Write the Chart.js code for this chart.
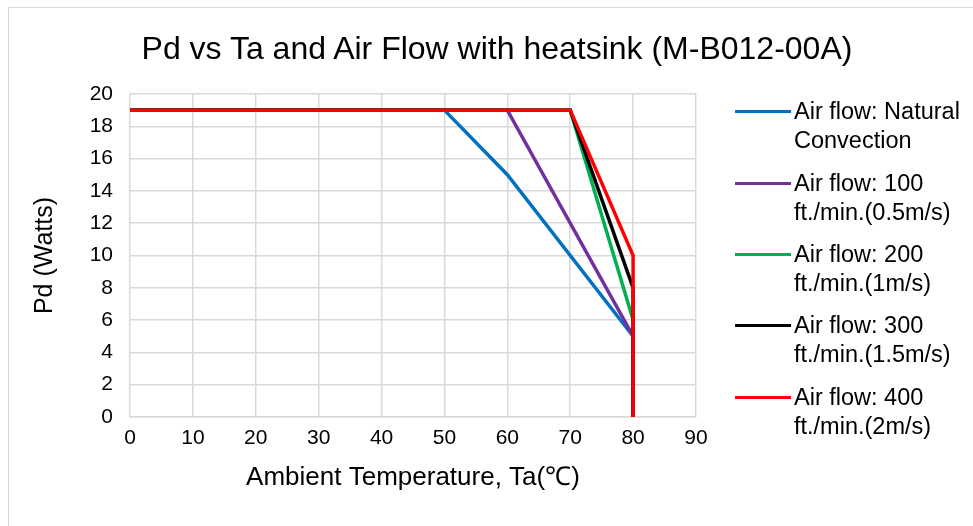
<!DOCTYPE html>
<html>
<head>
<title>Pd vs Ta</title>
<script src="https://cdn.jsdelivr.net/npm/chart.js"></script>
<style>
body{margin:0;background:#fff;font-family:"Liberation Sans",Arial,sans-serif;}
#wrap{position:relative;width:973px;height:526px;overflow:hidden;}
#frame{position:absolute;left:8px;top:7px;width:980px;height:530px;border:1px solid #d9d9d9;}
#chart{position:absolute;left:0;top:0;}
#title{position:absolute;left:0;width:994px;top:30px;text-align:center;font-size:32px;line-height:37px;color:#000;white-space:nowrap;}
.lg{position:absolute;left:735px;font-size:23.5px;line-height:28.5px;color:#000;}
.lg span{position:absolute;left:0;top:13px;width:56px;height:3px;}
.lg div{margin-left:59px;white-space:nowrap;}
</style>
</head>
<body>
<div id="wrap">
  <div id="frame"></div>
  <canvas id="chart" width="973" height="526"></canvas>
  <div id="title">Pd vs Ta and Air Flow with heatsink (M-B012-00A)</div>
  <div id="legend"></div>
</div>
<script>
const seriesNames = [
  ['Air flow: Natural', 'Convection'],
  ['Air flow: 100', 'ft./min.(0.5m/s)'],
  ['Air flow: 200', 'ft./min.(1m/s)'],
  ['Air flow: 300', 'ft./min.(1.5m/s)'],
  ['Air flow: 400', 'ft./min.(2m/s)']
];
const colors = ['#0070C0', '#7030A0', '#00B050', '#000000', '#FF0000'];

const taNatural = [0, 50, 60, 80, 80];
const pdNatural = [19, 19, 15, 5, 0];
const ta100 = [0, 60, 80, 80];
const pd100 = [19, 19, 5, 0];
const ta200 = [0, 70, 80, 80];
const pd200 = [19, 19, 6, 0];
const ta300 = [0, 70, 80, 80];
const pd300 = [19, 19, 8, 0];
const ta400 = [0, 70, 80, 80];
const pd400 = [19, 19, 10, 0];

const xTicks = [0, 10, 20, 30, 40, 50, 60, 70, 80, 90];
const yTicks = [0, 2, 4, 6, 8, 10, 12, 14, 16, 18, 20];

const allTa = [taNatural, ta100, ta200, ta300, ta400];
const allPd = [pdNatural, pd100, pd200, pd300, pd400];

const datasets = allTa.map((ta, i) => ({
  label: seriesNames[i].join(' '),
  data: ta.map((x, j) => ({x: x, y: allPd[i][j]})),
  borderColor: colors[i],
  backgroundColor: colors[i],
  borderWidth: 3.5,
  pointRadius: 0,
  tension: 0,
  fill: false,
  order: 4 - i,
  clip: false
}));

const font = {family: '"Liberation Sans", Arial, sans-serif'};

new Chart(document.getElementById('chart'), {
  type: 'line',
  data: {datasets: datasets},
  options: {
    responsive: false,
    animation: false,
    devicePixelRatio: 1,
    layout: {padding: {left: 30, right: 277, top: 94, bottom: 30}},
    plugins: {
      legend: {display: false},
      tooltip: {enabled: false},
      title: {display: false}
    },
    scales: {
      x: {
        type: 'linear',
        min: 0, max: 90,
        afterBuildTicks: s => { s.ticks = xTicks.map(v => ({value: v})); },
        afterFit: s => { s.height = 79; },
        ticks: {color: '#000', font: {...font, size: 21}, padding: 9, maxRotation: 0},
        grid: {color: '#d9d9d9', lineWidth: 1.5, drawTicks: false},
        border: {color: '#d9d9d9', width: 1.5},
        title: {display: true, text: 'Ambient Temperature, Ta(℃)', color: '#000', font: {...font, size: 26}, padding: {top: 4, bottom: 3}}
      },
      y: {
        min: 0, max: 20,
        afterBuildTicks: s => { s.ticks = yTicks.map(v => ({value: v})); },
        afterFit: s => { s.width = 100; },
        ticks: {color: '#000', font: {...font, size: 21}, padding: 17},
        grid: {color: '#d9d9d9', lineWidth: 1.5, drawTicks: false},
        border: {display: false},
        title: {display: true, text: 'Pd (Watts)', color: '#000', font: {...font, size: 25}, padding: {top: 0, bottom: 4}}
      }
    }
  }
});

// legend with two-line labels, like the original
const legendTops = [97, 169, 240, 311, 383];
const legend = document.getElementById('legend');
seriesNames.forEach((lines, i) => {
  const d = document.createElement('div');
  d.className = 'lg';
  d.style.top = legendTops[i] + 'px';
  d.innerHTML = '<span style="background:' + colors[i] + '"></span><div>' + lines.join('<br>') + '</div>';
  legend.appendChild(d);
});
</script>
</body>
</html>
